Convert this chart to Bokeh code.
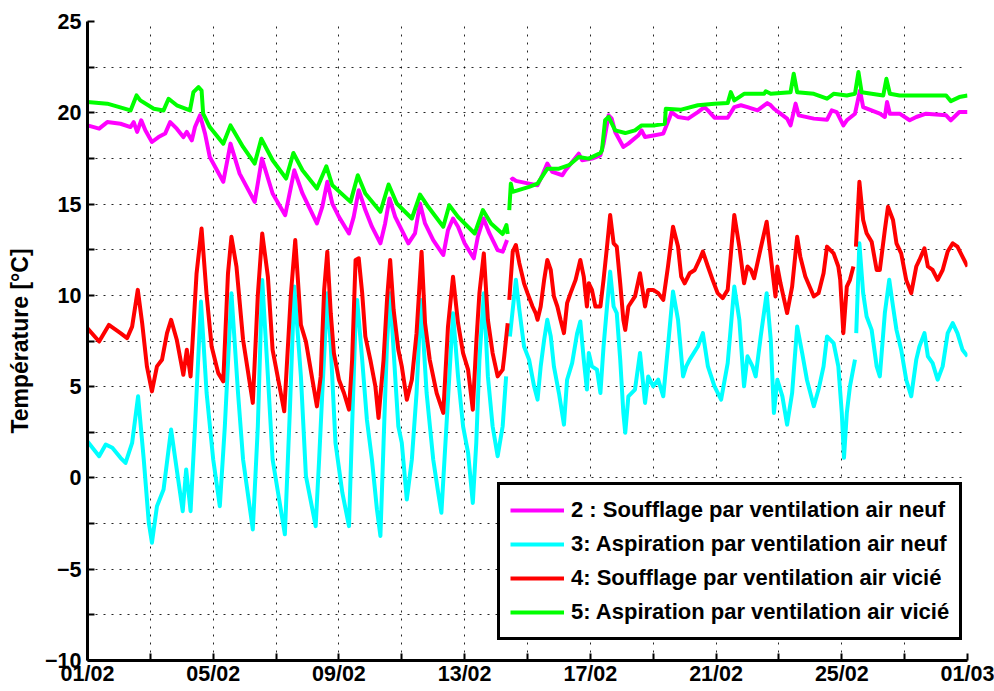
from bokeh.plotting import figure
from bokeh.models import FixedTicker, Range1d
from bokeh.embed import file_html
from bokeh.resources import INLINE

nan = float("nan")

# x: days since 01/02 00:00 ; y: temperature in °C ; nan marks a data gap
mag_day = [0.00, 0.37, 0.63, 1.05, 1.37, 1.47, 1.58, 1.71, 1.84, 2.05, 2.26, 2.47, 2.63, 2.84, 3.05, 3.16,
           3.32, 3.42, 3.58, 3.74, 3.89, 4.32, 4.55, 4.84, 5.32, 5.55, 5.89, 6.29, 6.58, 6.84, 7.30, 7.47,
           7.63, 7.79, 8.00, 8.32, 8.47, 8.63, 8.84, 9.05, 9.32, 9.47, 9.61, 9.79, 10.00, 10.21, 10.42,
           10.58, 10.74, 11.00, 11.32, 11.47, 11.63, 11.79, 12.00, 12.29, 12.42, 12.60, 12.79, 13.05,
           13.21, 13.35, 13.40,
           13.47, 13.53, 13.63, 14.05, 14.32, 14.47, 14.63, 14.79, 15.11, 15.21, 15.63, 15.74, 16.05,
           16.32, 16.42, 16.58, 16.68, 16.79, 17.05, 17.21, 17.53, 17.63, 17.74, 18.05, 18.32, 18.53,
           18.58, 18.79, 19.11, 19.42, 19.63, 19.74, 19.95, 20.37, 20.58, 20.79, 21.00, 21.32, 21.63,
           21.74, 21.84, 22.05, 22.26, 22.37, 22.53, 22.63, 23.11, 23.53, 23.68, 23.84, 24.05, 24.16,
           24.42, 24.58, 24.68, 25.21, 25.37, 25.44, 25.53, 25.84, 26.16, 26.37, 26.68, 27.32, 27.47,
           27.74, 28.00]
mag_val = [19.31, 19.13, 19.49, 19.40, 19.22, 19.49, 18.95, 19.59, 19.04, 18.40, 18.67, 18.86, 19.49, 19.13,
           18.67, 18.95, 18.49, 19.22, 19.86, 18.86, 17.58, 16.22, 18.31, 16.67, 15.12, 17.49, 15.58, 14.39,
           16.85, 15.58, 13.94, 14.85, 16.22, 15.03, 14.30, 13.39, 14.30, 15.76, 14.67, 13.76, 12.85, 13.94,
           15.31, 14.30, 13.57, 12.85, 13.39, 15.03, 13.94, 13.03, 12.21, 13.57, 14.21, 13.76, 12.85, 12.03,
           13.21, 14.21, 13.39, 12.48, 12.39, 13.03, nan,
           16.31, 16.40, 16.27, 16.12, 16.03, 16.58, 17.22, 16.76, 16.58, 16.85, 17.76, 17.40, 17.49,
           17.67, 18.31, 19.86, 19.68, 18.95, 18.13, 18.31, 18.77, 19.04, 18.67, 18.77, 18.86, 19.77,
           20.04, 19.77, 19.68, 20.04, 20.31, 20.13, 19.73, 19.73, 20.31, 20.41, 20.31, 20.13, 20.53,
           20.41, 20.22, 19.95, 19.68, 19.31, 20.50, 19.86, 19.68, 19.62, 20.13, 20.04, 19.31, 19.59,
           19.95, 21.22, 20.31, 19.95, 19.77, 20.59, 19.95, 19.95, 19.59, 19.77, 19.95, 19.86, 19.59,
           20.04, 20.04]

cya_day = [0.00, 0.37, 0.58, 0.79, 1.05, 1.21, 1.42, 1.61, 1.79, 1.95, 2.05, 2.21, 2.42, 2.66, 2.84, 3.03,
           3.14, 3.28, 3.42, 3.61, 3.79, 4.00, 4.21, 4.37, 4.58, 4.79, 4.95, 5.26, 5.42, 5.56, 5.74, 5.89,
           6.28, 6.44, 6.58, 6.79, 6.95, 7.26, 7.37, 7.47, 7.63, 7.74, 7.89, 8.11, 8.32, 8.42, 8.53, 8.58,
           8.74, 8.89, 9.05, 9.21, 9.32, 9.42, 9.53, 9.63, 9.79, 9.89, 10.00, 10.16, 10.32, 10.47, 10.61,
           10.79, 11.00, 11.16, 11.26, 11.42, 11.63, 11.79, 11.95, 12.11, 12.26, 12.37, 12.47, 12.61,
           12.74, 12.89, 13.05, 13.21, 13.32, 13.40,
           13.44, 13.63, 13.74, 13.89, 14.05, 14.21, 14.32, 14.42, 14.53, 14.63, 14.74, 14.84, 15.00,
           15.16, 15.26, 15.42, 15.58, 15.68, 15.79, 15.89, 15.95, 16.05, 16.21, 16.32, 16.42, 16.53,
           16.63, 16.74, 16.84, 16.95, 17.05, 17.11, 17.21, 17.42, 17.58, 17.74, 17.84, 18.00, 18.16,
           18.32, 18.47, 18.63, 18.79, 18.95, 19.05, 19.16, 19.42, 19.58, 19.74, 19.95, 20.16, 20.37,
           20.58, 20.74, 20.89, 21.00, 21.16, 21.26, 21.42, 21.61, 21.74, 21.84, 21.95, 22.11, 22.26,
           22.42, 22.58, 22.74, 22.89, 23.11, 23.26, 23.42, 23.53, 23.74, 23.89, 24.00, 24.07, 24.16,
           24.26, 24.42, 24.44,
           24.46, 24.56, 24.68, 24.79, 24.95, 25.11, 25.21, 25.37, 25.51, 25.63, 25.74, 25.89, 26.05,
           26.21, 26.37, 26.47, 26.63, 26.74, 26.89, 27.05, 27.21, 27.37, 27.53, 27.68, 27.84, 28.00]
cya_val = [2.00, 1.19, 1.83, 1.65, 1.10, 0.82, 1.92, 4.47, 1.01, -2.45, -3.55, -1.55, -0.64, 2.65, 0.46,
           -1.82, 0.46, -1.82, 2.83, 9.66, 4.65, 1.01, -1.55, 2.83, 10.11, 4.65, 1.01, -2.82, 2.83, 10.84,
           5.56, 1.01, -3.09, 3.74, 10.48, 5.56, 0.10, -2.64, 1.01, 4.65, 10.11, 7.20, 1.92, -0.82, -2.64,
           2.83, 8.66, 9.75, 6.47, 3.19, 1.01, -1.73, -3.18, 1.92, 7.38, 10.11, 5.56, 2.83, 1.92, -1.18,
           1.01, 4.65, 9.75, 4.65, 1.01, -0.82, -1.91, 2.83, 9.02, 5.56, 2.83, 1.37, -1.37, 1.92, 6.47,
           10.11, 5.56, 2.83, 1.19, 2.83, 5.56, nan,
           7.75, 10.85, 9.21, 7.20, 6.48, 5.02, 4.29, 6.11, 7.57, 8.66, 7.75, 6.11, 4.65, 2.92, 5.38,
           6.29, 7.93, 8.57, 6.48, 4.84, 6.84, 6.11, 5.93, 4.65, 7.20, 9.39, 11.30, 9.39, 9.03, 6.48,
           3.56, 2.47, 4.47, 4.84, 6.84, 4.11, 5.56, 5.02, 5.38, 4.47, 7.20, 10.21, 8.66, 5.56, 6.11,
           6.48, 7.20, 7.93, 6.11, 5.02, 4.29, 6.29, 10.48, 8.66, 5.02, 6.66, 6.11, 5.56, 7.75, 10.12,
           7.57, 3.56, 5.38, 4.47, 2.92, 4.65, 8.30, 6.84, 5.38, 3.93, 4.84, 6.11, 7.75, 7.38, 6.11,
           3.56, 1.10, 3.56, 5.02, 6.48, nan,
           7.93, 12.85, 10.12, 8.84, 8.11, 6.11, 5.56, 9.03, 10.85, 9.39, 8.11, 7.02, 5.38, 4.47, 6.48,
           7.20, 7.93, 6.66, 6.29, 5.38, 6.11, 7.93, 8.48, 7.93, 7.02, 6.66]

red_day = [0.00, 0.37, 0.68, 1.05, 1.26, 1.42, 1.60, 1.74, 1.89, 2.05, 2.21, 2.37, 2.53, 2.66, 2.84, 3.05,
           3.16, 3.28, 3.47, 3.63, 3.79, 3.95, 4.16, 4.32, 4.47, 4.58, 4.74, 4.95, 5.26, 5.42, 5.56, 5.74,
           5.89, 6.26, 6.47, 6.61, 6.79, 6.95, 7.30, 7.42, 7.53, 7.63, 7.74, 7.84, 8.00, 8.16, 8.32, 8.42,
           8.53, 8.63, 8.74, 8.84, 9.00, 9.16, 9.26, 9.42, 9.53, 9.63, 9.74, 9.89, 10.00, 10.16, 10.32,
           10.47, 10.63, 10.74, 10.89, 11.11, 11.32, 11.47, 11.63, 11.79, 11.95, 12.11, 12.26, 12.37,
           12.47, 12.61, 12.74, 12.89, 13.05, 13.21, 13.26, 13.37, 13.40,
           13.42, 13.53, 13.63, 13.74, 13.84, 13.89, 14.00, 14.16, 14.26, 14.32, 14.42, 14.53, 14.63,
           14.74, 14.84, 14.95, 15.05, 15.16, 15.26, 15.37, 15.53, 15.68, 15.79, 15.89, 15.95, 16.05,
           16.16, 16.32, 16.42, 16.53, 16.63, 16.74, 16.84, 16.95, 17.05, 17.11, 17.21, 17.42, 17.58,
           17.74, 17.84, 18.00, 18.16, 18.32, 18.47, 18.63, 18.79, 18.89, 19.00, 19.16, 19.32, 19.47,
           19.58, 19.74, 19.89, 20.05, 20.21, 20.37, 20.58, 20.74, 20.89, 21.00, 21.11, 21.21, 21.42,
           21.61, 21.74, 21.89, 21.95, 22.05, 22.26, 22.42, 22.58, 22.68, 22.84, 23.11, 23.26, 23.42,
           23.53, 23.74, 23.89, 23.95, 24.05, 24.16, 24.26, 24.37, 24.41,
           24.45, 24.56, 24.68, 24.79, 24.95, 25.11, 25.21, 25.37, 25.47, 25.63, 25.74, 25.89, 26.05,
           26.21, 26.37, 26.47, 26.63, 26.74, 26.89, 27.05, 27.21, 27.37, 27.53, 27.68, 27.84, 28.00]
red_val = [8.20, 7.47, 8.38, 7.93, 7.66, 8.29, 10.30, 8.47, 6.11, 4.74, 6.11, 6.47, 7.93, 8.66, 7.57, 5.65,
           7.02, 5.56, 11.20, 13.66, 10.03, 7.20, 5.74, 5.29, 11.20, 13.21, 11.57, 7.57, 4.11, 10.03, 13.39,
           11.02, 7.02, 3.65, 10.03, 13.03, 8.38, 7.47, 3.92, 5.56, 10.30, 12.39, 9.02, 6.84, 5.38, 4.65,
           3.74, 6.47, 11.94, 12.03, 10.12, 7.75, 6.47, 5.01, 3.28, 6.47, 9.75, 11.94, 9.21, 7.02, 6.11,
           4.28, 5.38, 7.93, 12.39, 8.48, 6.47, 4.65, 3.56, 8.29, 11.02, 8.48, 6.84, 5.93, 3.74, 7.38,
           10.12, 12.30, 8.66, 6.84, 5.56, 5.93, 6.66, 8.47, nan,
           9.75, 12.40, 12.76, 11.76, 11.03, 10.66, 10.12, 9.39, 9.03, 8.66, 9.39, 10.85, 11.94, 11.39,
           9.94, 9.39, 8.66, 7.93, 9.57, 10.12, 10.85, 11.94, 11.03, 9.39, 10.66, 10.30, 9.39, 9.39,
           10.85, 12.67, 14.40, 12.85, 12.67, 10.66, 8.66, 8.11, 9.39, 9.94, 11.21, 9.39, 10.30, 10.30,
           10.12, 9.75, 11.58, 13.76, 12.67, 11.03, 10.66, 11.21, 11.39, 11.94, 12.40, 11.58, 10.85,
           10.12, 9.85, 10.30, 14.40, 12.67, 10.66, 11.58, 11.39, 10.94, 12.58, 14.03, 12.12, 9.94,
           11.58, 10.66, 9.03, 10.48, 13.21, 12.12, 11.03, 9.94, 10.12, 11.21, 12.67, 12.30, 11.58,
           10.85, 7.93, 10.48, 10.85, 11.58, nan,
           12.67, 16.22, 14.13, 13.40, 12.94, 11.39, 11.39, 13.58, 14.85, 14.13, 12.85, 12.30, 10.85,
           10.12, 11.58, 11.94, 12.58, 11.58, 11.39, 10.85, 11.39, 12.40, 12.85, 12.67, 12.12, 11.58]

gre_day = [0.00, 0.63, 1.37, 1.56, 1.68, 2.11, 2.42, 2.58, 2.84, 3.26, 3.37, 3.53, 3.63, 3.68, 3.89, 4.32,
           4.55, 4.95, 5.32, 5.53, 5.89, 6.32, 6.55, 6.84, 7.30, 7.60, 7.79, 8.37, 8.60, 8.84, 9.32, 9.58,
           9.84, 10.32, 10.58, 10.84, 11.32, 11.51, 11.79, 12.32, 12.58, 12.84, 13.21, 13.33, 13.37, 13.40,
           13.42, 13.47, 13.53, 14.05, 14.32, 14.63, 15.00, 15.32, 15.63, 15.95, 16.32, 16.37, 16.47,
           16.58, 16.79, 17.11, 17.42, 17.63, 18.05, 18.37, 18.40, 18.89, 19.42, 19.95, 20.37, 20.47,
           20.58, 20.89, 21.53, 21.58, 21.74, 22.05, 22.37, 22.47, 22.58, 23.11, 23.53, 23.74, 24.16,
           24.42, 24.53, 24.63, 25.32, 25.42, 25.53, 25.84, 27.32, 27.47, 27.74, 28.00]
gre_val = [20.59, 20.50, 20.13, 20.95, 20.68, 20.22, 20.13, 20.77, 20.41, 20.13, 21.13, 21.41, 21.22, 19.95,
           19.22, 18.31, 19.31, 18.13, 17.22, 18.58, 17.40, 16.40, 17.80, 16.85, 15.85, 17.07, 16.03, 15.12,
           16.58, 15.58, 14.58, 16.07, 15.03, 14.21, 15.52, 14.85, 13.76, 14.94, 14.30, 13.39, 14.67, 13.94,
           13.36, 13.85, 13.36, nan,
           14.67, 16.12, 15.67, 15.94, 16.12, 16.94, 16.94, 17.13, 17.58, 17.49, 17.80, 17.95, 19.59,
           19.77, 19.04, 18.89, 19.04, 19.31, 19.31, 19.40, 20.22, 20.17, 20.41, 20.50, 20.53, 21.13,
           20.68, 21.04, 21.04, 21.18, 21.04, 21.08, 21.13, 22.14, 21.13, 21.04, 20.77, 21.04, 20.95,
           21.04, 22.23, 21.13, 20.95, 21.86, 21.04, 20.95, 20.95, 20.64, 20.86, 20.95]

series_names = ["2 : Soufflage par ventilation air neuf",
                "3: Aspiration par ventilation air neuf",
                "4: Soufflage par ventilation air vicié",
                "5: Aspiration par ventilation air vicié"]
series_colors = ["#FF00FF", "#00FFFF", "#FF0000", "#00FF00"]

x_ticks = [0, 4, 8, 12, 16, 20, 24, 28]
x_minor = [2, 6, 10, 14, 18, 22, 26]
x_labels = ["01/02", "05/02", "09/02", "13/02", "17/02", "21/02", "25/02", "01/03"]
y_ticks = [-10, -5, 0, 5, 10, 15, 20, 25]
y_minor = [-7.5, -2.5, 2.5, 7.5, 12.5, 17.5, 22.5]
y_labels = ["\u221210", "\u22125", "0", "5", "10", "15", "20", "25"]

FONT = "Liberation Sans"

p = figure(width=994, height=691, output_backend="svg", toolbar_location=None,
           x_range=Range1d(0, 28), y_range=Range1d(-10, 25),
           min_border_left=87, min_border_right=27, min_border_top=21, min_border_bottom=31)
p.outline_line_color = None
p.background_fill_color = "white"
p.border_fill_color = "white"

data = [(mag_day, mag_val), (cya_day, cya_val), (red_day, red_val), (gre_day, gre_val)]
for (d, v), name, col in zip(data, series_names, series_colors):
    p.line(d, v, line_color=col, line_width=4, line_join="round", legend_label=name)

for ax, ticks, minor, labels in ((p.xaxis[0], x_ticks, x_minor, x_labels),
                                 (p.yaxis[0], y_ticks, y_minor, y_labels)):
    ax.ticker = FixedTicker(ticks=ticks, minor_ticks=minor)
    ax.major_label_overrides = {t: l for t, l in zip(ticks, labels)}
    ax.axis_line_width = 3
    ax.axis_line_color = "black"
    ax.major_tick_in = 7
    ax.major_tick_out = 0
    ax.minor_tick_in = 7
    ax.minor_tick_out = 0
    ax.major_tick_line_width = 2
    ax.minor_tick_line_width = 2
    ax.major_label_text_font = FONT
    ax.major_label_text_font_style = "bold"
    ax.major_label_text_font_size = "21.5px"
    ax.major_label_text_color = "black"

p.xaxis.major_label_standoff = 1
p.yaxis.major_label_standoff = 6
p.yaxis.axis_label = "Température [°C]"
p.yaxis.axis_label_text_font = FONT
p.yaxis.axis_label_text_font_style = "bold"
p.yaxis.axis_label_text_font_size = "23px"
p.yaxis.axis_label_text_color = "black"
p.yaxis.axis_label_standoff = 9

for g in (p.xgrid[0], p.ygrid[0]):
    g.grid_line_color = "black"
    g.grid_line_alpha = 0.85
    g.grid_line_width = 1
    g.grid_line_dash = "2 6"
    g.minor_grid_line_color = "black"
    g.minor_grid_line_alpha = 0.85
    g.minor_grid_line_width = 1
    g.minor_grid_line_dash = "2 6"

lg = p.legend[0]
lg.location = (410, 20)
lg.label_text_font = FONT
lg.label_text_font_style = "bold"
lg.label_text_font_size = "22px"
lg.label_text_color = "black"
lg.glyph_width = 54
lg.glyph_height = 30
lg.label_height = 30
lg.label_standoff = 7
lg.spacing = 4
lg.padding = 10
lg.margin = 0
lg.border_line_color = "black"
lg.border_line_alpha = 1.0
lg.border_line_width = 3
lg.background_fill_color = "white"
lg.background_fill_alpha = 1.0

open("out.html", "w").write(file_html(p, INLINE))
